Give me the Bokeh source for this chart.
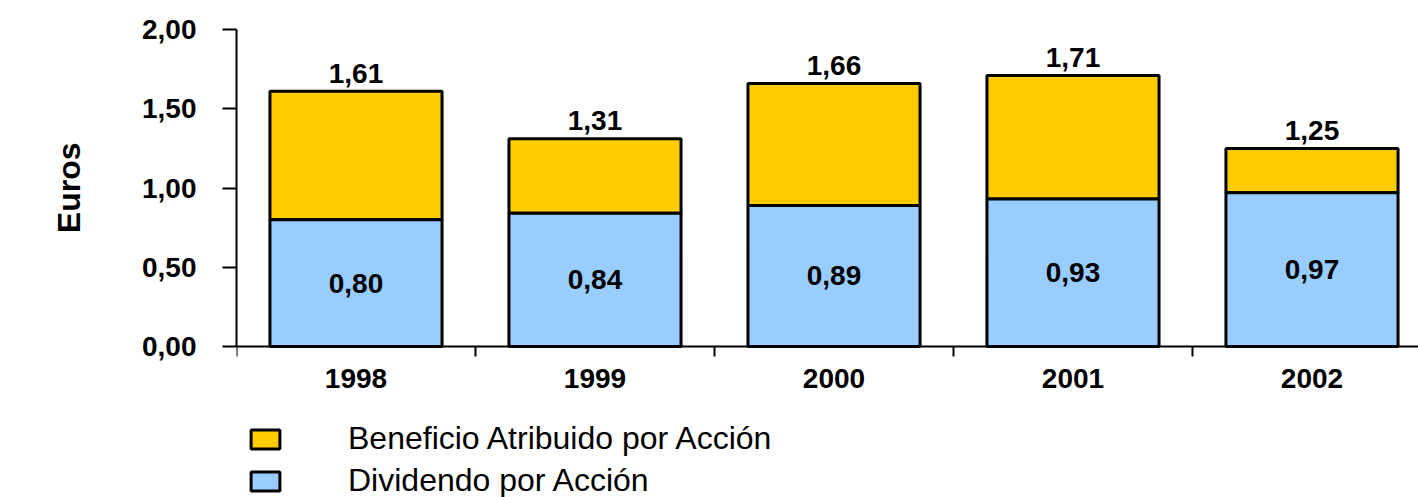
from bokeh.plotting import figure
from bokeh.models import ColumnDataSource, Range1d, FixedTicker, Legend, LegendItem, LabelSet, Title
from bokeh.core.properties import value
from bokeh.embed import file_html
from bokeh.resources import INLINE

years = ["1998", "1999", "2000", "2001", "2002"]
beneficio = [1.61, 1.31, 1.66, 1.71, 1.25]
dividendo = [0.80, 0.84, 0.89, 0.93, 0.97]
y_ticks = [0.0, 0.5, 1.0, 1.5, 2.0]

def fmt(v):
    return f"{v:.2f}".replace(".", ",")

xs = [i + 0.5 for i in range(len(years))]
src = ColumnDataSource(dict(
    x=xs, ben=beneficio, div=dividendo,
    ben_lbl=[fmt(v) for v in beneficio],
    div_lbl=[fmt(v) for v in dividendo],
    div_mid=[v / 2 for v in dividendo],
))

FONT = "Liberation Sans"
PX_PER_UNIT = 317 / 2.0

p = figure(frame_width=1182, frame_height=468, output_backend="svg", toolbar_location=None,
           x_range=Range1d(0, 1182 / 239), y_range=Range1d(-151 / PX_PER_UNIT, 2.0),
           min_border_left=236, min_border_top=29, min_border_right=0, min_border_bottom=0)
p.outline_line_color = None
p.grid.grid_line_color = None
p.background_fill_color = "white"

yel = p.vbar(x="x", bottom="div", top="ben", width=0.72, source=src,
             fill_color="#FFCC00", line_color="black", line_width=3)
blu = p.vbar(x="x", bottom=0, top="div", width=0.72, source=src,
             fill_color="#99CCFF", line_color="black", line_width=3)

p.add_layout(LabelSet(x="x", y="ben", text="ben_lbl", source=src, text_align="center",
                      text_baseline="middle", y_offset=18, text_font=value(FONT),
                      text_font_style="bold", text_font_size="28px", text_color="black"))
p.add_layout(LabelSet(x="x", y="div_mid", text="div_lbl", source=src, text_align="center",
                      text_baseline="middle", text_font=value(FONT),
                      text_font_style="bold", text_font_size="28px", text_color="black"))

# y axis
ya = p.yaxis[0]
ya.ticker = FixedTicker(ticks=y_ticks)
ya.bounds = (0, 2.0)
ya.major_label_overrides = {t: fmt(t) for t in y_ticks}
ya.major_label_text_font = FONT
ya.major_label_text_font_style = "bold"
ya.major_label_text_font_size = "28px"
ya.major_label_text_color = "black"
ya.major_label_standoff = 26
ya.major_tick_out = 14
ya.major_tick_in = 0
ya.major_tick_line_width = 2
ya.major_tick_line_color = "black"
ya.minor_tick_line_color = None
ya.axis_line_width = 2
ya.axis_line_color = "black"

# y axis title, positioned over the 0..2 span
p.add_layout(Title(text="Euros", align="right", vertical_align="top", offset=113,
                   standoff=101, text_font="Liberation Sans Narrow, Liberation Sans",
                   text_font_style="bold", text_font_size="32px", text_color="black"), "left")

# x axis, drawn at y = 0
xa = p.xaxis[0]
xa.fixed_location = 0
xa.ticker = FixedTicker(ticks=xs, minor_ticks=list(range(len(years))))
xa.major_label_overrides = {x: y for x, y in zip(xs, years)}
xa.major_label_text_font = FONT
xa.major_label_text_font_style = "bold"
xa.major_label_text_font_size = "28px"
xa.major_label_text_color = "black"
xa.major_tick_line_color = None
xa.major_tick_out = 10
xa.major_label_standoff = 12
xa.minor_tick_out = 10
xa.minor_tick_in = 0
xa.minor_tick_line_width = 2
xa.minor_tick_line_color = "black"
xa.axis_line_width = 2
xa.axis_line_color = "black"

legend = Legend(items=[LegendItem(label="Beneficio Atribuido por Acción", renderers=[yel]),
                       LegendItem(label="Dividendo por Acción", renderers=[blu])],
                location=(11, -2), orientation="vertical",
                glyph_width=36, glyph_height=24, label_standoff=65, label_height=24,
                spacing=5, padding=0, margin=0,
                label_text_font=FONT, label_text_font_size="32px", label_text_color="black",
                border_line_color=None, background_fill_alpha=0)
p.add_layout(legend, "center")

open("out.html", "w").write(file_html(p, INLINE))
